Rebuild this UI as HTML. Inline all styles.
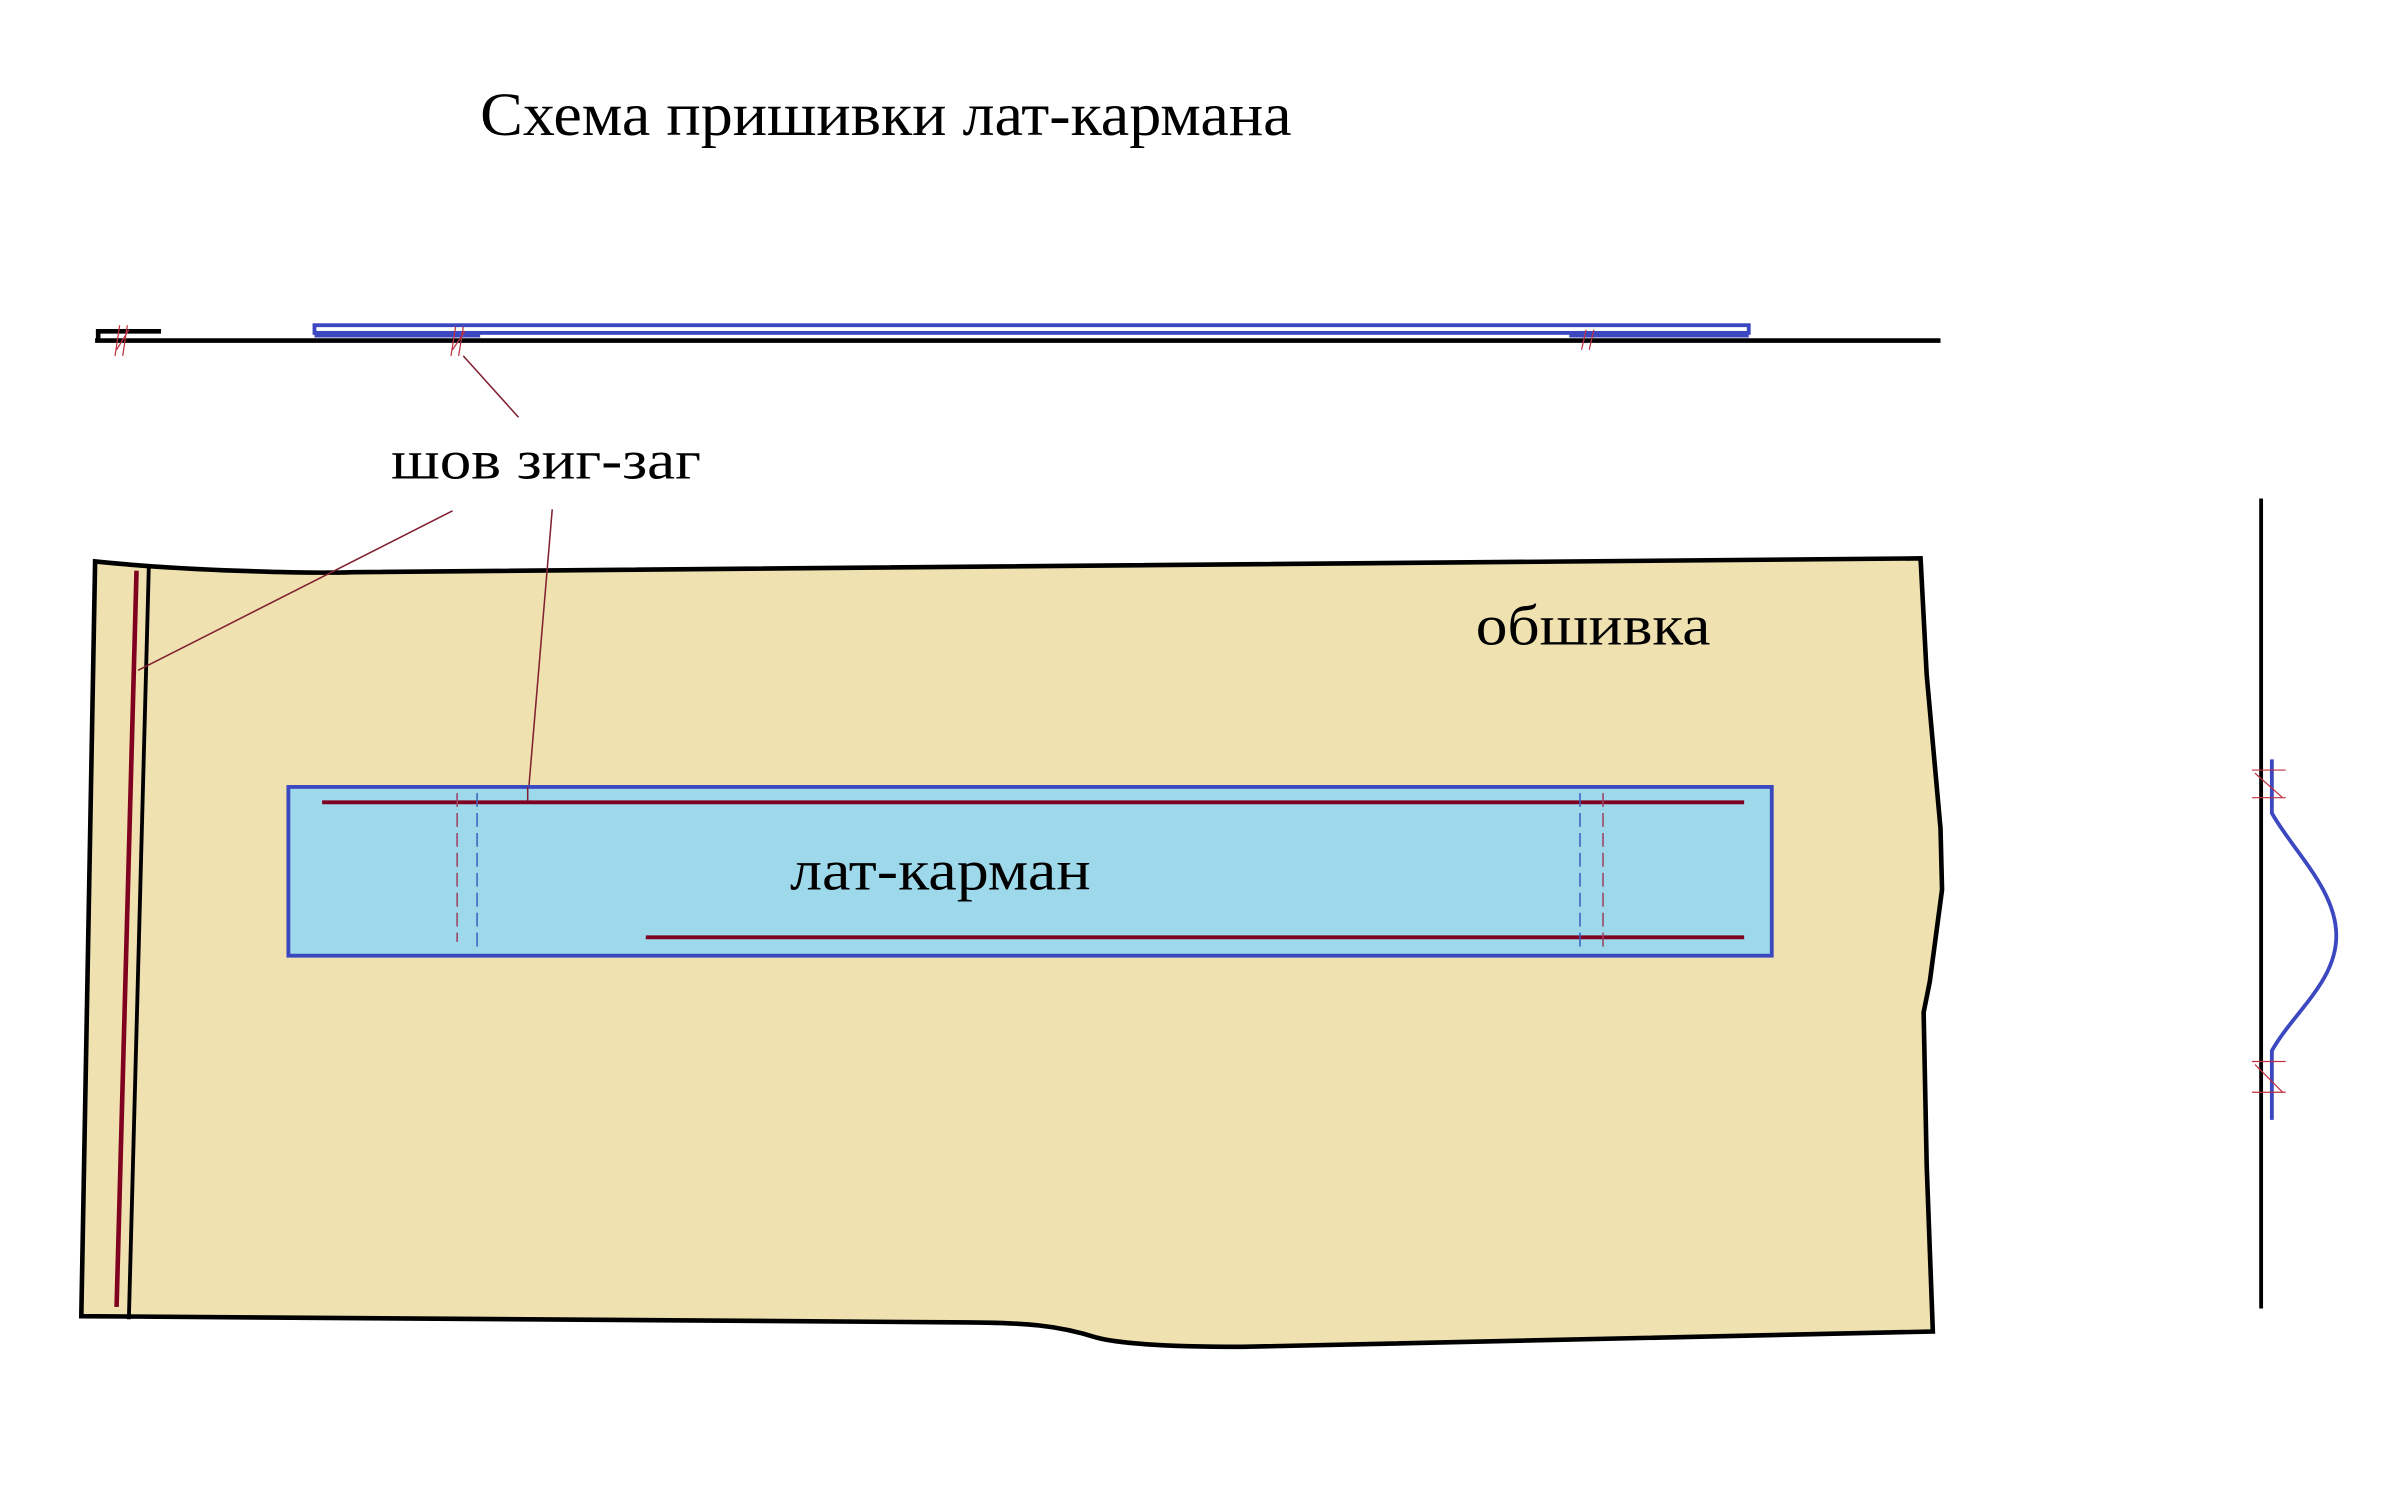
<!DOCTYPE html>
<html><head><meta charset="utf-8"><style>
html,body{margin:0;padding:0;background:#fff;}
svg{display:block;}
text{font-family:"Liberation Serif",serif;fill:#000;}
</style></head><body>
<svg width="2404" height="1492" viewBox="0 0 2404 1492" xmlns="http://www.w3.org/2000/svg">
<rect width="2404" height="1492" fill="#fff"/>
<g transform="scale(1.534)">
<text x="313" y="88" font-size="40" textLength="529" lengthAdjust="spacingAndGlyphs">Схема пришивки лат-кармана</text>
<path d="M62 222 L1265 222" stroke="#000" stroke-width="3"/>
<path d="M105 216 L64 216 L64 222" stroke="#000" stroke-width="3" fill="none"/>
<rect x="205" y="212" width="935" height="5" fill="none" stroke="#3c48c0" stroke-width="2.5"/>
<rect x="205" y="217" width="108" height="3" fill="#3c48c0"/>
<rect x="1023" y="217" width="117" height="3" fill="#3c48c0"/>
<g stroke="#c03040" stroke-width="0.8" fill="none">
<path d="M78 212 L75 232 M83 212 L80 232 M76 228 L84 215"/>
<path d="M297 213 L294 232 M302 213 L299 232 M295 228 L303 216"/>
<path d="M1034 215 L1031 228 M1039 215 L1036 228"/>
</g>
<text x="255" y="312" font-size="36" textLength="202" lengthAdjust="spacingAndGlyphs">шов зиг-заг</text>
<line x1="338" y1="272" x2="302" y2="232" stroke="#802030" stroke-width="1"/>
<path d="M62 366 C120 372 200 374 230 373 L1252 364 L1256 440 L1265 540 L1266 580 L1258 640 L1254 660 L1256 760 L1260 868 L810 878 C760 878 730 876 715 872 C690 864 670 862 620 862 L53 858 Z" fill="#efe1b0" stroke="#000" stroke-width="3"/>
<line x1="97" y1="370" x2="84" y2="860" stroke="#000" stroke-width="2.5"/>
<line x1="89" y1="372" x2="76" y2="852" stroke="#800020" stroke-width="3"/>
<line x1="295" y1="333" x2="90" y2="437" stroke="#802030" stroke-width="1"/>
<line x1="360" y1="332" x2="344" y2="522" stroke="#802030" stroke-width="1"/>
<text x="962" y="420" font-size="37" textLength="153" lengthAdjust="spacingAndGlyphs">обшивка</text>
<rect x="188" y="513" width="967" height="110" fill="#9dd9ea" stroke="#3c48c0" stroke-width="2.5"/>
<line x1="210" y1="523" x2="1137" y2="523" stroke="#800020" stroke-width="2.5"/>
<line x1="421" y1="611" x2="1137" y2="611" stroke="#800020" stroke-width="2.5"/>
<line x1="344" y1="513" x2="344" y2="522" stroke="#802030" stroke-width="1"/>
<g stroke-width="1" stroke-dasharray="9 4">
<line x1="298" y1="517" x2="298" y2="614" stroke="#a04060"/>
<line x1="311" y1="517" x2="311" y2="617" stroke="#3c60c0"/>
<line x1="1030" y1="517" x2="1030" y2="617" stroke="#3c60c0"/>
<line x1="1045" y1="517" x2="1045" y2="617" stroke="#a04060"/>
</g>
<text x="515" y="580" font-size="37" textLength="196" lengthAdjust="spacingAndGlyphs">лат-карман</text>
<line x1="1474" y1="325" x2="1474" y2="853" stroke="#000" stroke-width="2.5"/>
<path d="M1481 495 L1481 530 C1495 555 1523 580 1523 610 C1523 640 1495 660 1481 685 L1481 730" fill="none" stroke="#3c48c0" stroke-width="2.5"/>
<g stroke="#c03040" stroke-width="0.8" fill="none">
<path d="M1468 502 L1490 502 M1468 520 L1490 520 M1470 504 L1488 520"/>
<path d="M1468 692 L1490 692 M1468 712 L1490 712 M1470 694 L1488 712"/>
</g>
</g>
</svg>
</body></html>
